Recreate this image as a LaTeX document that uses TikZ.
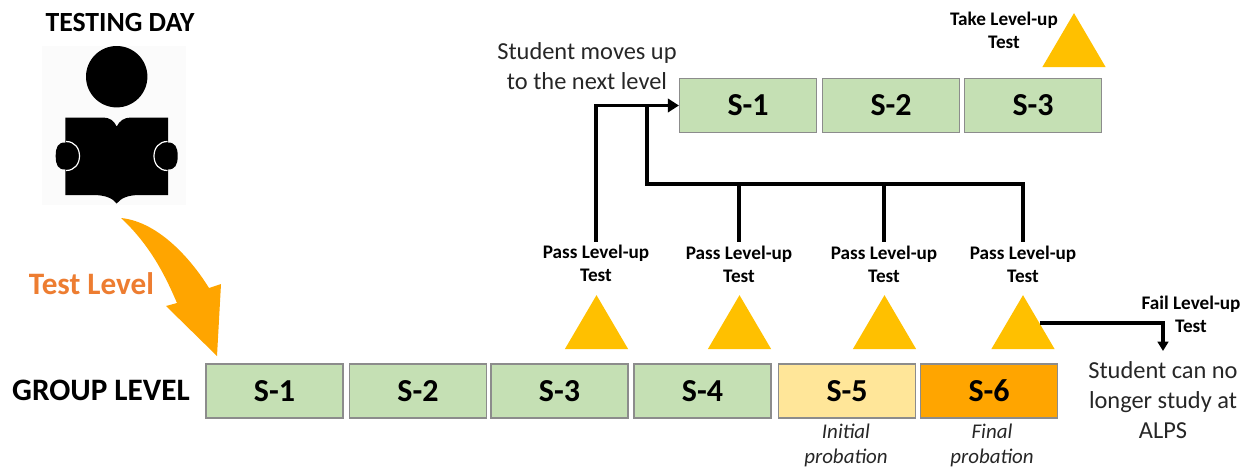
\documentclass[tikz,border=0pt]{standalone}
\usepackage{fontspec}
\setmainfont{Carlito}
\usetikzlibrary{shapes.geometric,arrows.meta}
\definecolor{boxgreen}{HTML}{C5E0B4}
\definecolor{boxyellow}{HTML}{FFE699}
\definecolor{boxorange}{HTML}{FFA500}
\definecolor{tri}{HTML}{FFC000}
\definecolor{boxedge}{HTML}{8C8C8C}
\definecolor{txt}{HTML}{262626}
\definecolor{labelorange}{HTML}{ED7D31}
\tikzset{
  lvl/.style={draw=boxedge,line width=1.1pt,minimum width=102.5pt,minimum height=40.6pt,inner sep=0pt,font=\fontsize{24}{28}\selectfont\bfseries},
  tribox/.style={isosceles triangle,isosceles triangle stretches,shape border rotate=90,fill=tri,minimum width=47.5pt,minimum height=40.5pt,inner sep=0pt},
  small/.style={align=center,font=\fontsize{14.4}{17}\selectfont\bfseries,inner sep=0pt},
  note/.style={align=center,text=txt,font=\fontsize{18.3}{22.5}\selectfont,inner sep=0pt},
  prob/.style={align=center,text=txt,font=\fontsize{15.7}{19}\selectfont\itshape,inner sep=0pt},
  conn/.style={line width=2.3pt,draw=black},
  tip/.style={-{Triangle[length=7pt,width=8pt]}},
  bigtip/.style={-{Triangle[length=8.3pt,width=10pt]}}
}
\begin{document}
\begin{tikzpicture}[x=0.75pt,y=-0.75pt]
\useasboundingbox (0,0) rectangle (1250,468);
% titles
\node[font=\fontsize{20.8}{24}\selectfont\bfseries,inner sep=0pt] (title) at (120,23) {TESTING DAY};
\node[font=\fontsize{23.4}{26}\selectfont\bfseries,inner sep=0pt] (group) at (101,390) {GROUP LEVEL};
\node[font=\fontsize{23.4}{26}\selectfont\bfseries,text=labelorange,inner sep=0pt] (testlevel) at (91.5,284) {Test Level};
% icon
\fill[black!1.5] (42,46) rectangle (186,205);
\fill[black] (116.7,76.7) circle (30.7);
\fill[black] (65.3,117.5) -- (103,117.5) .. controls (110,117.5) and (114,121) .. (116.7,126.5)
  .. controls (119.5,121) and (124,117.5) .. (131,117.5) -- (168,117.5) -- (168,195) -- (140,195)
  .. controls (128,195) and (121,198) .. (116.7,203.5) .. controls (112.5,198) and (105,195) .. (93,195) -- (65.3,195) -- cycle;
\fill[black] (65,142.5) .. controls (58,142.5) and (55.7,147) .. (55.7,156) .. controls (55.7,165) and (58,169.5) .. (65,169.5)
  .. controls (73,169.5) and (78.5,164) .. (78.5,156) .. controls (78.5,148) and (73,142.5) .. (65,142.5) -- cycle;
\fill[black] (168,142.5) .. controls (175,142.5) and (177.7,147) .. (177.7,156) .. controls (177.7,165) and (175,169.5) .. (168,169.5)
  .. controls (160,169.5) and (154.5,164) .. (154.5,156) .. controls (154.5,148) and (160,142.5) .. (168,142.5) -- cycle;
\draw[white,line width=0.9pt] (66,141.5) .. controls (74.5,141.5) and (79.5,148) .. (79.5,156) .. controls (79.5,164) and (74.5,170.5) .. (66,170.5);
\draw[white,line width=0.9pt] (167.5,141.5) .. controls (159,141.5) and (154,148) .. (154,156) .. controls (154,164) and (159,170.5) .. (167.5,170.5);
% big arrow
\fill[boxorange] (121,218) .. controls (160,222) and (193,262) .. (209,288) -- (221,284) -- (217,356) -- (166,306) -- (177,303)
  .. controls (165,275) and (150,245) .. (121,218) -- cycle;
% lower boxes
\node[lvl,fill=boxgreen] (a1) at (274.5,391) {S-1};
\node[lvl,fill=boxgreen] (a2) at (418,391) {S-2};
\node[lvl,fill=boxgreen] (a3) at (559.5,391) {S-3};
\node[lvl,fill=boxgreen] (a4) at (702.5,391) {S-4};
\node[lvl,fill=boxyellow] (a5) at (847,391) {S-5};
\node[lvl,fill=boxorange] (a6) at (989,391) {S-6};
% upper boxes
\node[lvl,fill=boxgreen] (b1) at (748,105.5) {S-1};
\node[lvl,fill=boxgreen] (b2) at (891,105.5) {S-2};
\node[lvl,fill=boxgreen] (b3) at (1033,105.5) {S-3};
% triangles
\node[tribox] (t0) at (1074,49) {};
\node[tribox] (t1) at (596.5,331) {};
\node[tribox] (t2) at (739.5,331) {};
\node[tribox] (t3) at (884.5,331) {};
\node[tribox] (t4) at (1023,331) {};
% small labels
\node[small] (take) at (1004,30) {Take Level-up\\Test};
\node[small] (p1) at (596,263) {Pass Level-up\\Test};
\node[small] (p2) at (739,264) {Pass Level-up\\Test};
\node[small] (p3) at (884,264) {Pass Level-up\\Test};
\node[small] (p4) at (1023,264) {Pass Level-up\\Test};
\node[small] (fail) at (1191,314) {Fail Level-up\\Test};
% notes
\node[note] (moves) at (587,66) {Student moves up\\to the next level};
\node[note] (nolonger) at (1163,400) {Student can no\\longer study at\\ALPS};
\node[prob] (n5) at (846,445.5) {Initial\\probation};
\node[prob] (n6) at (992,445.5) {Final\\probation};
% connectors
\coordinate (j2) at (647,105.5);
\coordinate (bar) at (647,184);
\coordinate (failstart) at (1040,323);
\coordinate (failbend) at (1163,323);
\coordinate (failend) at (1163,351);
\draw[conn,bigtip] (p1.north) ++(0,-3) |- (b1.west);
\draw[conn] (j2) -- (bar) -- (bar -| p4) -- ([yshift=3pt]p4.north);
\draw[conn] (bar -| p2) -- ([yshift=3pt]p2.north);
\draw[conn] (bar -| p3) -- ([yshift=3pt]p3.north);
\draw[conn,tip] (failstart) -- (failbend) -- (failend);
\end{tikzpicture}
\end{document}
